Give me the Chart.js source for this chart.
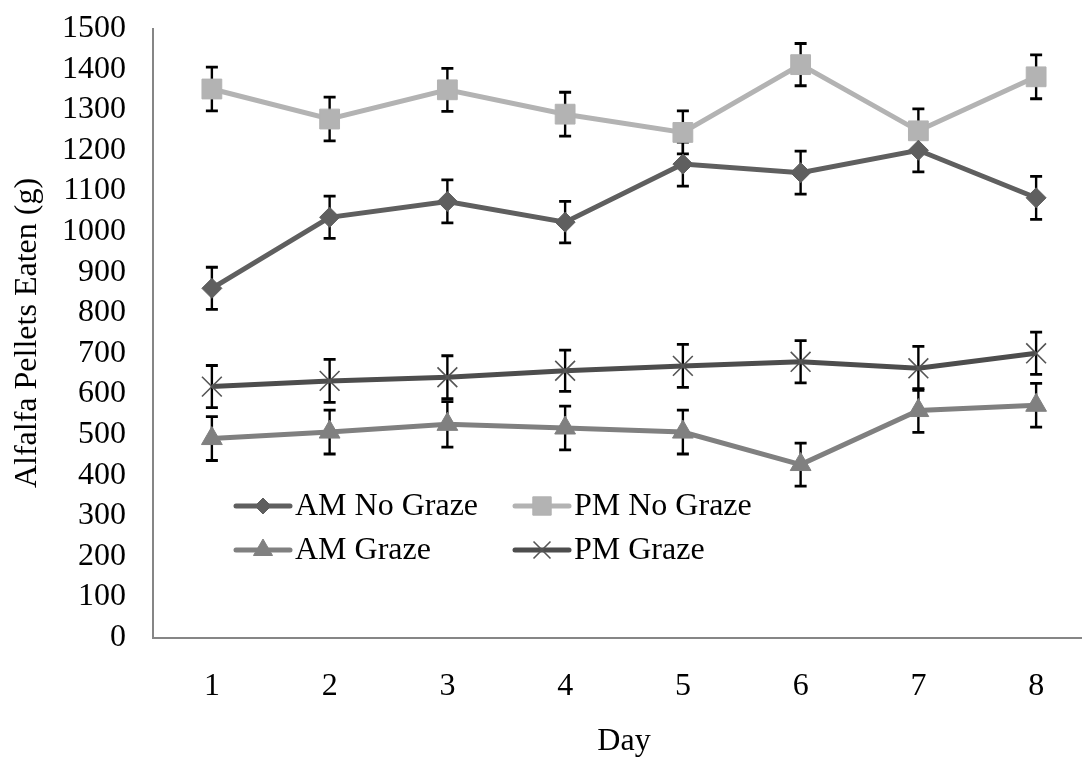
<!DOCTYPE html>
<html>
<head>
<meta charset="utf-8">
<title>Alfalfa Pellets Eaten</title>
<script src="https://cdn.jsdelivr.net/npm/chart.js@4.4.1/dist/chart.umd.min.js"></script>
<style>
  html, body { margin: 0; padding: 0; background: #fff; overflow: hidden; }
  #chart { display: block; width: 1095px; height: 758px; }
</style>
</head>
<body>
<canvas id="chart" width="1095" height="758"></canvas>
<script>
// Days on the x axis
const days = ['1', '2', '3', '4', '5', '6', '7', '8'];

// Mean pellets eaten (g) per day
const amNoGraze = [860, 1035, 1074, 1023, 1166, 1145, 1200, 1083];
const pmNoGraze = [1351, 1277, 1349, 1289, 1244, 1411, 1248, 1381];
const amGraze = [490, 506, 525, 516, 506, 426, 559, 572];
const pmGraze = [618, 632, 641, 657, 669, 679, 663, 700];

// Error bar half-lengths (g)
const amNoGrazeErr = [52, 52, 53, 51, 54, 53, 53, 53];
const pmNoGrazeErr = [54, 54, 53, 54, 53, 52, 54, 54];
const amGrazeErr = [54, 54, 56, 54, 54, 53, 54, 54];
const pmGrazeErr = [52, 53, 53, 51, 53, 52, 54, 52];

// Y axis range
const yMin = 0;
const yMax = 1500;
const yStep = 100;

const serif = "'Liberation Serif', 'Times New Roman', serif";
Chart.defaults.font.family = serif;
Chart.defaults.font.size = 32;
Chart.defaults.color = '#000';

// vertical error bars with caps, drawn under the lines and markers
const errorBars = {
  id: 'errorBars',
  beforeDatasetsDraw(chart) {
    const ctx = chart.ctx;
    const yScale = chart.scales.y;
    ctx.save();
    ctx.strokeStyle = '#000';
    chart.data.datasets.forEach((ds, i) => {
      const meta = chart.getDatasetMeta(i);
      meta.data.forEach((pt, j) => {
        const v = ds.data[j];
        const e = ds.errors[j];
        const top = yScale.getPixelForValue(v + e);
        const bot = yScale.getPixelForValue(v - e);
        ctx.lineWidth = 2.4;
        ctx.beginPath();
        ctx.moveTo(pt.x, top);
        ctx.lineTo(pt.x, bot);
        ctx.stroke();
        ctx.lineWidth = 2.8;
        ctx.beginPath();
        ctx.moveTo(pt.x - 6, top);
        ctx.lineTo(pt.x + 6, top);
        ctx.moveTo(pt.x - 6, bot);
        ctx.lineTo(pt.x + 6, bot);
        ctx.stroke();
      });
    });
    ctx.restore();
  }
};

// legend sitting inside the plot area, two columns
const insideLegend = {
  id: 'insideLegend',
  afterDraw(chart) {
    const ctx = chart.ctx;
    const slots = [[236, 506], [515, 506], [236, 550], [515, 550]];
    const legendRadius = [8, 13, 11, 12];
    ctx.save();
    chart.data.datasets.forEach((ds, i) => {
      const [x, y] = slots[i];
      ctx.strokeStyle = ds.borderColor;
      ctx.lineWidth = 5;
      ctx.lineCap = 'round';
      ctx.beginPath();
      ctx.moveTo(x, y);
      ctx.lineTo(x + 54, y);
      ctx.stroke();
      ctx.lineCap = 'butt';
      ctx.fillStyle = ds.pointBackgroundColor;
      ctx.strokeStyle = ds.pointBorderColor;
      ctx.lineWidth = ds.pointBorderWidth;
      Chart.helpers.drawPoint(ctx, {
        pointStyle: ds.pointStyle,
        radius: legendRadius[i],
        rotation: 0,
        borderWidth: ds.pointBorderWidth
      }, x + 27, y);
      ctx.fillStyle = '#000';
      ctx.font = '32px ' + serif;
      ctx.textAlign = 'left';
      ctx.textBaseline = 'middle';
      ctx.fillText(ds.label, x + 59, y + 1);
    });
    ctx.restore();
  }
};

const chart = new Chart(document.getElementById('chart'), {
  type: 'line',
  data: {
    labels: days,
    datasets: [{
      label: 'AM No Graze',
      data: amNoGraze,
      errors: amNoGrazeErr,
      borderColor: '#5f5f5f',
      borderWidth: 5,
      pointStyle: 'rectRot',
      pointRadius: 10,
      pointBackgroundColor: '#5f5f5f',
      pointBorderColor: '#5f5f5f',
      pointBorderWidth: 1
    }, {
      label: 'PM No Graze',
      data: pmNoGraze,
      errors: pmNoGrazeErr,
      borderColor: '#b3b3b3',
      borderWidth: 5,
      pointStyle: 'rect',
      pointRadius: 14,
      pointBackgroundColor: '#b3b3b3',
      pointBorderColor: '#b3b3b3',
      pointBorderWidth: 1
    }, {
      label: 'AM Graze',
      data: amGraze,
      errors: amGrazeErr,
      borderColor: '#808080',
      borderWidth: 5,
      pointStyle: 'triangle',
      pointRadius: 12,
      pointBackgroundColor: '#808080',
      pointBorderColor: '#808080',
      pointBorderWidth: 1
    }, {
      label: 'PM Graze',
      data: pmGraze,
      errors: pmGrazeErr,
      borderColor: '#4d4d4d',
      borderWidth: 5,
      pointStyle: 'crossRot',
      pointRadius: 14,
      pointBackgroundColor: '#555555',
      pointBorderColor: '#555555',
      pointBorderWidth: 1.6
    }]
  },
  options: {
    responsive: false,
    animation: false,
    layout: { autoPadding: false, padding: { top: 28.5, right: 0, bottom: 0, left: 0 } },
    elements: { line: { tension: 0 } },
    plugins: {
      legend: { display: false },
      tooltip: { enabled: false }
    },
    scales: {
      x: {
        offset: true,
        grid: { display: false, drawTicks: false },
        border: { color: '#868686', width: 2 },
        ticks: { padding: 30, autoSkip: false, maxRotation: 0 },
        title: { display: true, text: 'Day', padding: { top: 0, bottom: -3 } },
        afterFit(scale) {
          scale.height = 120.5;
          scale.paddingLeft = 0;
          scale.paddingRight = 0;
        }
      },
      y: {
        min: yMin,
        max: yMax,
        grid: { display: false, drawTicks: false },
        border: { color: '#868686', width: 2 },
        ticks: {
          stepSize: yStep,
          padding: 27,
          autoSkip: false,
          callback: (v) => String(v)
        },
        title: { display: true, text: 'Alfalfa Pellets Eaten (g)', padding: { top: 8, bottom: 0 } },
        afterFit(scale) {
          scale.width = 153;
          scale.paddingTop = 0;
          scale.paddingBottom = 0;
        }
      }
    }
  },
  plugins: [errorBars, insideLegend]
});
</script>
</body>
</html>
